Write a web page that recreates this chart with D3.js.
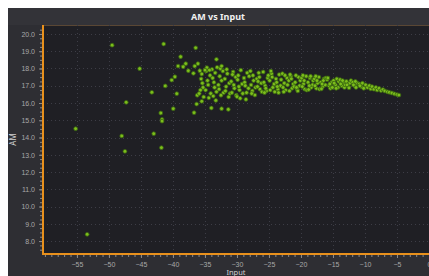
<!DOCTYPE html>
<html>
<head>
<meta charset="utf-8">
<script src="https://cdn.jsdelivr.net/npm/d3@7"></script>
<style>
  body { margin: 0; background: #ffffff; }
  svg { display: block; font-family: "Noto Sans", "DejaVu Sans", sans-serif; }
</style>
</head>
<body>
<div id="chart"></div>
<script>
// scattered points off the main band: [Input, AM]
var outliers = [
  [-55.2,14.51],[-53.4,8.39],[-49.5,19.35],[-48.0,14.09],[-47.5,13.2],[-47.3,16.04],
  [-45.2,17.99],[-43.3,16.62],[-43.0,14.22],[-41.9,15.42],[-41.7,15.05],[-41.7,14.95],
  [-41.8,13.41],[-41.45,19.42],[-41.2,16.99],[-40.2,17.33],[-39.95,15.67],[-39.7,17.52],
  [-39.4,16.54],[-39.2,18.14],[-38.8,18.68],[-38.4,18.1],[-38.0,18.28],[-37.6,17.87],
  [-36.8,17.72],[-36.7,15.44],[-36.6,18.14],[-36.45,19.2],[-36.3,15.94],[-36.2,16.45],
  [-36.1,18.28],[-35.8,17.87],[-35.5,17.68],[-35.5,16.1],[-35.0,17.91],[-34.3,17.91],
  [-34.0,15.71],[-33.2,18.53],[-33.1,18.07],[-32.4,18.14],[-32.4,15.67],[-31.35,15.63],
  [-35.6,17.4],[-35.3,16.9],[-35.9,16.55],[-35.4,17.15],[-35.2,16.35],[-35.7,16.75]
];

// the dense band from -35 to -5
var band = [
  [-34.8,17.85],[-34.6,17.3],[-34.9,16.75],[-34.4,16.3],[-34.2,17.6],[-34.5,17.05],[-34.1,16.55],[-34.7,18.05],
  [-33.8,17.45],[-33.5,16.9],[-33.3,16.15],[-33.9,17.95],[-33.6,17.2],[-33.2,16.65],[-33.4,17.75],[-33.7,16.4],
  [-32.9,17.05],[-32.7,17.55],[-32.5,16.45],[-32.2,17.85],[-32.8,16.8],[-32.4,17.3],[-32.1,16.6],[-32.6,18.0],
  [-31.9,17.4],[-31.7,16.95],[-31.5,17.7],[-31.3,16.35],[-31.8,16.7],[-31.2,17.15],[-31.6,17.95],[-31.1,16.55],
  [-30.9,17.25],[-30.6,17.8],[-30.4,16.85],[-30.2,17.5],[-30.8,16.6],[-30.5,17.05],[-30.1,16.45],[-30.7,17.65],
  [-30.0,16.37],[-29.9,17.35],[-29.6,16.75],[-29.4,17.9],[-29.2,17.1],[-29.8,17.6],[-29.5,16.27],[-29.1,16.55],[-29.7,16.95],
  [-28.9,17.45],[-28.6,16.21],[-28.4,17.75],[-28.2,16.85],[-28.8,17.2],[-28.5,16.6],[-28.1,17.55],[-28.7,17.0],
  [-27.9,17.85],[-27.6,16.7],[-27.4,17.3],[-27.2,16.46],[-27.8,17.05],[-27.5,17.6],[-27.1,16.9],[-27.7,16.55],
  [-26.9,17.4],[-26.6,17.75],[-26.4,16.8],[-26.2,17.15],[-26.8,16.95],[-26.5,17.5],[-26.1,16.65],[-26.7,17.25],
  [-25.9,17.8],[-25.6,17.0],[-25.4,16.7],[-25.2,17.45],[-25.8,17.2],[-25.5,16.85],[-25.1,17.6],[-25.7,16.6],
  [-24.9,17.3],[-24.6,17.7],[-24.4,16.9],[-24.2,17.1],[-24.8,16.75],[-24.5,17.5],[-24.1,16.65],[-24.7,17.85],
  [-23.9,17.4],[-23.6,16.8],[-23.4,17.65],[-23.2,17.0],[-23.8,17.2],[-23.5,16.6],[-23.1,17.35],[-23.7,16.95],
  [-22.9,17.7],[-22.6,17.15],[-22.4,16.75],[-22.2,17.45],[-22.8,16.9],[-22.5,17.6],[-22.1,17.05],[-22.7,16.65],
  [-21.9,17.3],[-21.6,17.55],[-21.4,16.85],[-21.2,17.1],[-21.8,16.7],[-21.5,17.4],[-21.1,16.95],[-21.7,17.65],
  [-20.9,17.2],[-20.6,16.8],[-20.4,17.5],[-20.2,17.0],[-20.8,17.6],[-20.5,16.7],[-20.1,17.3],[-20.7,16.9],
  [-19.9,17.45],[-19.6,17.1],[-19.4,16.8],[-19.2,17.55],[-19.8,16.95],[-19.5,17.3],[-19.1,16.75],[-19.7,17.6],
  [-18.9,17.2],[-18.6,17.45],[-18.4,16.9],[-18.2,17.05],[-18.8,16.78],[-18.5,17.55],[-18.1,17.3],[-18.7,17.0],
  [-17.9,17.4],[-17.6,16.85],[-17.4,17.15],[-17.2,17.5],[-17.8,17.0],[-17.5,17.3],[-17.1,16.8],[-17.7,17.55],
  [-16.9,17.2],[-16.6,16.95],[-16.4,17.4],[-16.2,17.05],[-16.8,16.82],[-16.5,17.3],[-16.1,17.45],[-16.7,17.1],
  [-15.9,17.35],[-15.6,17.0],[-15.4,16.85],[-15.2,17.2],[-15.8,17.45],[-15.5,17.1],[-15.1,16.9],
  [-14.9,17.3],[-14.6,17.05],[-14.4,17.4],[-14.2,16.9],[-14.8,17.15],[-14.5,16.85],[-14.1,17.25],
  [-13.9,17.35],[-13.6,17.0],[-13.4,17.2],[-13.2,16.9],[-13.8,17.1],[-13.5,17.3],[-13.1,17.05],
  [-12.9,17.25],[-12.6,16.95],[-12.4,17.15],[-12.2,17.3],[-12.8,17.05],[-12.5,16.88],
  [-11.9,17.2],[-11.6,17.0],[-11.4,16.9],[-11.2,17.15],[-11.8,17.05],[-11.5,17.25],
  [-10.9,17.1],[-10.6,16.95],[-10.4,17.15],[-10.2,16.85],[-10.8,17.0],
  [-9.9,17.05],[-9.6,16.9],[-9.3,17.0],[-9.1,16.82],
  [-8.9,16.95],[-8.6,16.8],[-8.3,16.9],[-8.1,16.75],
  [-7.8,16.85],[-7.5,16.72],[-7.2,16.78],
  [-6.9,16.7],[-6.5,16.65],[-6.2,16.62],
  [-5.8,16.58],[-5.4,16.53],[-5.0,16.49],[-4.7,16.46]
];

var xTicks = [-55, -50, -45, -40, -35, -30, -25, -20, -15, -10, -5, 0];
var yTicks = [8, 9, 10, 11, 12, 13, 14, 15, 16, 17, 18, 19, 20];

var svgWidth = 429;
var svgHeight = 276;

var panel = { left: 8, top: 8 };
var plot = { left: 43, top: 25, right: 429, bottom: 254 };

var svg = d3.select("#chart")
  .append("svg")
  .attr("width", svgWidth)
  .attr("height", svgHeight);

// outer dark panel + title bar
svg.append("rect")
  .attr("x", panel.left).attr("y", panel.top)
  .attr("width", svgWidth - panel.left).attr("height", svgHeight - panel.top)
  .attr("fill", "#2e2e33");

svg.append("rect")
  .attr("x", panel.left).attr("y", panel.top)
  .attr("width", svgWidth - panel.left).attr("height", plot.top - panel.top)
  .attr("fill", "#333338");

svg.append("text")
  .attr("x", 218).attr("y", 20)
  .attr("text-anchor", "middle")
  .attr("fill", "#f0f0f0")
  .attr("font-size", "9px")
  .attr("font-weight", "bold")
  .text("AM vs Input");

// plot background
svg.append("rect")
  .attr("x", plot.left).attr("y", plot.top)
  .attr("width", plot.right - plot.left).attr("height", plot.bottom - plot.top)
  .attr("fill", "#1f1f24");

svg.append("line")
  .attr("x1", plot.left).attr("x2", plot.right)
  .attr("y1", plot.top + 0.5).attr("y2", plot.top + 0.5)
  .attr("stroke", "#5a4734").attr("stroke-width", 1);

var x = d3.scaleLinear().domain([-60.3, 0]).range([plot.left, plot.right]);
var y = d3.scaleLinear().domain([7.25, 20.52]).range([plot.bottom, plot.top]);

// dotted grid
var grid = svg.append("g");
grid.selectAll(".vg").data(xTicks.filter(d => d < 0)).enter().append("line")
  .attr("x1", d => Math.round(x(d)) + 0.5).attr("x2", d => Math.round(x(d)) + 0.5)
  .attr("y1", plot.top).attr("y2", plot.bottom)
  .attr("stroke", "#3d3d46").attr("stroke-dasharray", "1,3");
grid.selectAll(".hg").data(yTicks).enter().append("line")
  .attr("x1", plot.left).attr("x2", plot.right)
  .attr("y1", d => Math.round(y(d)) + 0.5).attr("y2", d => Math.round(y(d)) + 0.5)
  .attr("stroke", "#3d3d46").attr("stroke-dasharray", "1,3");

// points
function drawPoints(data) {
  svg.append("g").selectAll("circle")
    .data(data)
    .enter()
    .append("circle")
    .attr("cx", d => x(d[0]))
    .attr("cy", d => y(d[1]))
    .attr("r", 1.9)
    .attr("fill", "#7cbd1c")
    .attr("stroke", "#3a6610")
    .attr("stroke-width", 0.8);
}
drawPoints(band);
drawPoints(outliers);

// axes
var bottomAxis = d3.axisBottom(x).tickValues(xTicks).tickSize(3).tickPadding(4).tickFormat(d3.format("d"));
var minorX = d3.axisBottom(x).tickValues(d3.range(-60, 1, 1)).tickSize(2).tickFormat("");
var leftAxis = d3.axisLeft(y).tickValues(yTicks).tickSize(3).tickPadding(4).tickFormat(d3.format(".1f"));
var minorY = d3.axisLeft(y).tickValues(d3.range(7.5, 20.5, 0.25)).tickSize(2).tickFormat("");

function styleAxis(g) {
  g.select(".domain").remove();
  g.selectAll("line").attr("stroke", "#8a8a8a");
  g.selectAll("text").attr("fill", "#a8a8a8").attr("font-size", "7px");
}

svg.append("g").attr("transform", `translate(0, ${plot.bottom + 1})`).call(minorX).call(styleAxis);
svg.append("g").attr("transform", `translate(0, ${plot.bottom + 1})`).call(bottomAxis).call(styleAxis);
svg.append("g").attr("transform", `translate(${plot.left - 1}, 0)`).call(minorY).call(styleAxis);
svg.append("g").attr("transform", `translate(${plot.left - 1}, 0)`).call(leftAxis).call(styleAxis);

// orange axis lines
svg.append("line")
  .attr("x1", plot.left).attr("x2", plot.left)
  .attr("y1", plot.top).attr("y2", plot.bottom + 1)
  .attr("stroke", "#e8901c").attr("stroke-width", 2);
svg.append("line")
  .attr("x1", plot.left).attr("x2", plot.right)
  .attr("y1", plot.bottom).attr("y2", plot.bottom)
  .attr("stroke", "#e8901c").attr("stroke-width", 2);

// axis labels
svg.append("text")
  .attr("transform", `translate(16, ${(plot.top + plot.bottom) / 2}) rotate(-90)`)
  .attr("text-anchor", "middle")
  .attr("fill", "#d0d0d0")
  .attr("font-size", "8px")
  .text("AM");

svg.append("text")
  .attr("x", (plot.left + plot.right) / 2).attr("y", 275)
  .attr("text-anchor", "middle")
  .attr("fill", "#d0d0d0")
  .attr("font-size", "7.5px")
  .text("Input");
</script>
</body>
</html>
